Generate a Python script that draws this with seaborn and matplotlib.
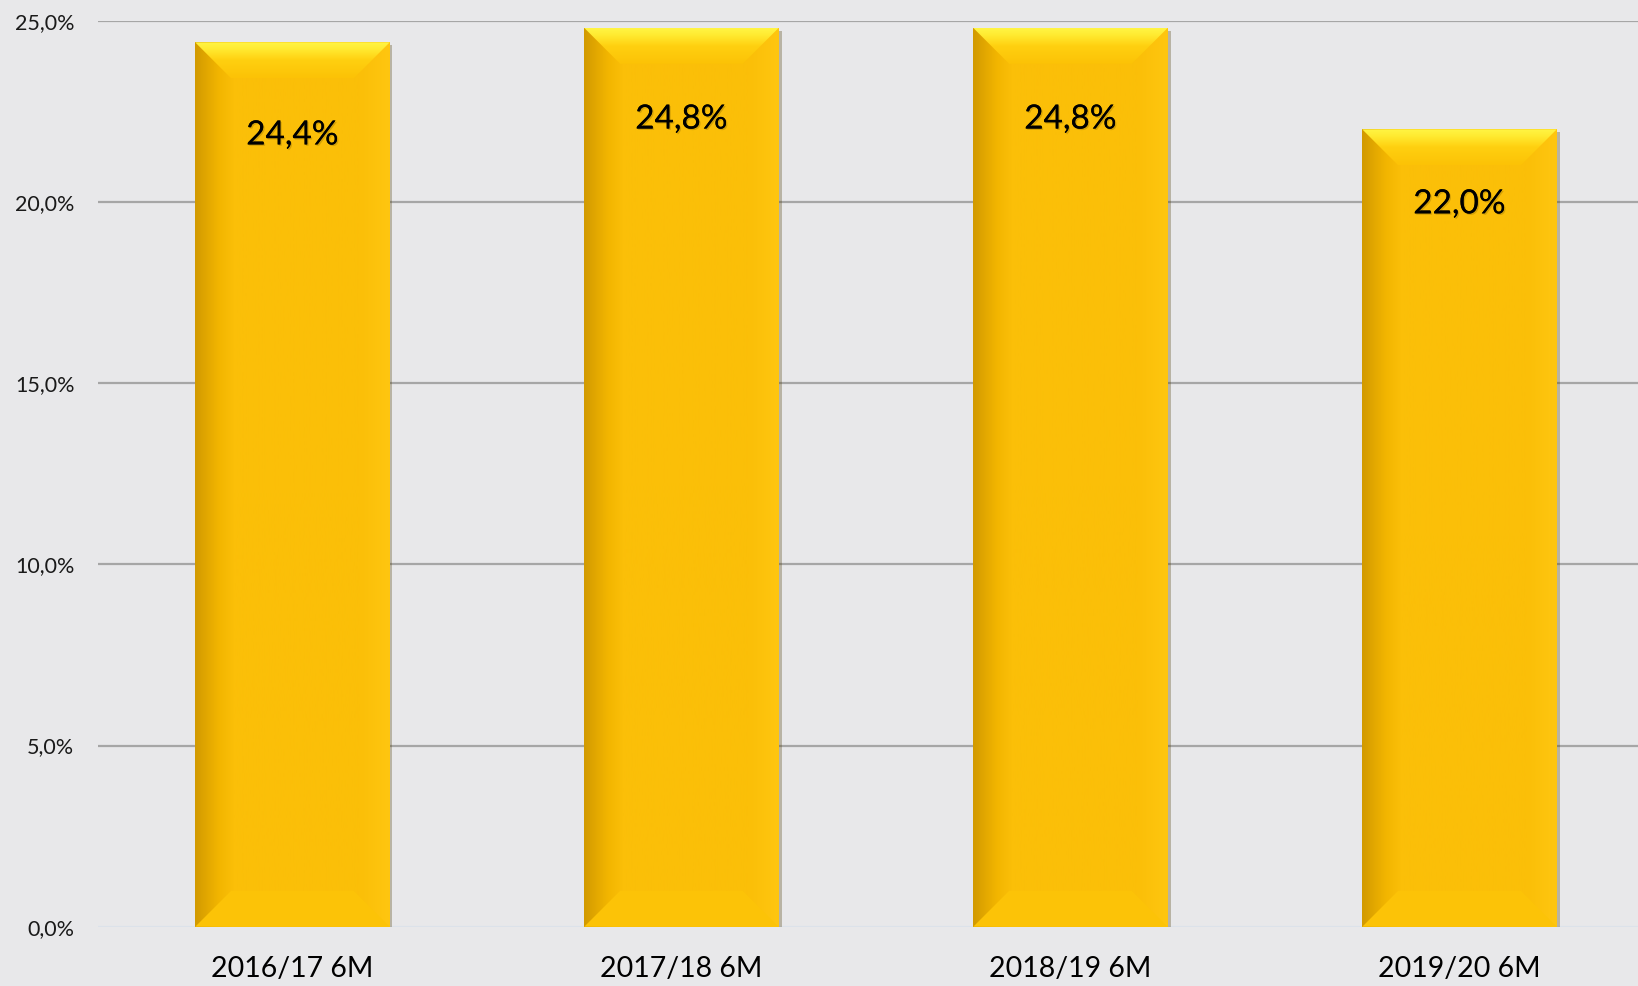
import numpy as np
import pandas as pd
import matplotlib
matplotlib.use("Agg")
import matplotlib.pyplot as plt
import seaborn as sns
import matplotlib.patheffects as pe
from matplotlib.patches import Polygon
from matplotlib.ticker import FuncFormatter, FixedLocator
from matplotlib.colors import LinearSegmentedColormap

# data
periods = ['2016/17 6M', '2017/18 6M', '2018/19 6M', '2019/20 6M']
shares = [24.4, 24.8, 24.8, 22.0]
y_ticks = [0, 5, 10, 15, 20, 25]

df = pd.DataFrame({'period': periods, 'share': shares})

sns.set_theme(style='white')
plt.rcParams['font.family'] = ['Lato', 'DejaVu Sans']

bg = '#E8E8EA'
bar_col = '#FBBF08'
# how far (points) the value label sits below each bar top
label_drop = [-67, -66, -66, -54]

fig = plt.figure(figsize=(16.38, 9.86), dpi=100)
fig.patch.set_facecolor(bg)
ax = fig.add_axes([0.0598, 0.0601, 0.9402, 0.919])
ax.set_facecolor(bg)

sns.barplot(data=df, x='period', y='share', color=bar_col, width=0.5,
            saturation=1, ax=ax, zorder=3, linewidth=0)

xlim = (-0.5, -0.5 + 1540 / 389)
ylim = (0, 25)
ax.set_xlim(*xlim)
ax.set_ylim(*ylim)

# bevel size in data units (~36 px)
bx = 36 * (xlim[1] - xlim[0]) / ax.bbox.width
by = 36 * (ylim[1] - ylim[0]) / ax.bbox.height

side_cmap = LinearSegmentedColormap.from_list('side', [
    (0, '#D29A00'), (0.12, '#F2B500'), (0.2, '#FBBF08'),
    (0.85, '#FBBF08'), (1, '#FFC610')])
top_cmap = LinearSegmentedColormap.from_list('top', [
    (0, '#FCC206'), (0.5, '#FFD010'), (0.8, '#FFEA30'), (1, '#FFF545')])

for p in ax.patches:
    p.set_path_effects([pe.withSimplePatchShadow(offset=(2, -2), alpha=0.3), pe.Normal()])
    x0, w, h = p.get_x(), p.get_width(), p.get_height()
    im = ax.imshow(np.linspace(0, 1, 256)[None, :], cmap=side_cmap, aspect='auto',
                   extent=(x0, x0 + w, 0, h), zorder=4, interpolation='bilinear')
    im.set_clip_path(p)
    top = Polygon([(x0, h), (x0 + w, h), (x0 + w - bx, h - by), (x0 + bx, h - by)],
                  closed=True, facecolor='none', edgecolor='none', zorder=5)
    ax.add_patch(top)
    im2 = ax.imshow(np.linspace(0, 1, 256)[:, None], cmap=top_cmap, aspect='auto',
                    origin='lower', extent=(x0, x0 + w, h - by, h), zorder=5,
                    interpolation='bilinear')
    im2.set_clip_path(top)
    bot = Polygon([(x0, 0), (x0 + w, 0), (x0 + w - bx, by), (x0 + bx, by)],
                  closed=True, facecolor='#FCC307', edgecolor='none', zorder=5)
    ax.add_patch(bot)

ax.set_xlim(*xlim)
ax.set_ylim(*ylim)

for i, (v, d) in enumerate(zip(shares, label_drop)):
    ax.annotate(f'{v:.1f}%'.replace('.', ','), (i, v), xytext=(0, d),
                textcoords='offset points', ha='center', va='center',
                fontsize=24, color='#000000', zorder=6,
                path_effects=[pe.withSimplePatchShadow(offset=(1, -1), alpha=0.15), pe.Normal()])

ax.yaxis.set_major_locator(FixedLocator(y_ticks))
ax.yaxis.set_major_formatter(FuncFormatter(lambda v, _: f'{v:.1f}%'.replace('.', ',')))
ax.yaxis.grid(True, color='#A6A6A6', linewidth=1.6)
ax.set_axisbelow(True)
ax.get_ygridlines()[0].set_color('#DCE2EA')
for s in ax.spines.values():
    s.set_visible(False)
ax.tick_params(axis='y', length=0, pad=17, labelsize=15.5, labelcolor='#1A1A1A')
ax.tick_params(axis='x', length=0, pad=21, labelsize=20.5, labelcolor='#000000')
ax.set_xlabel('')
ax.set_ylabel('')

fig.savefig('out.png', dpi=100, facecolor=bg)
